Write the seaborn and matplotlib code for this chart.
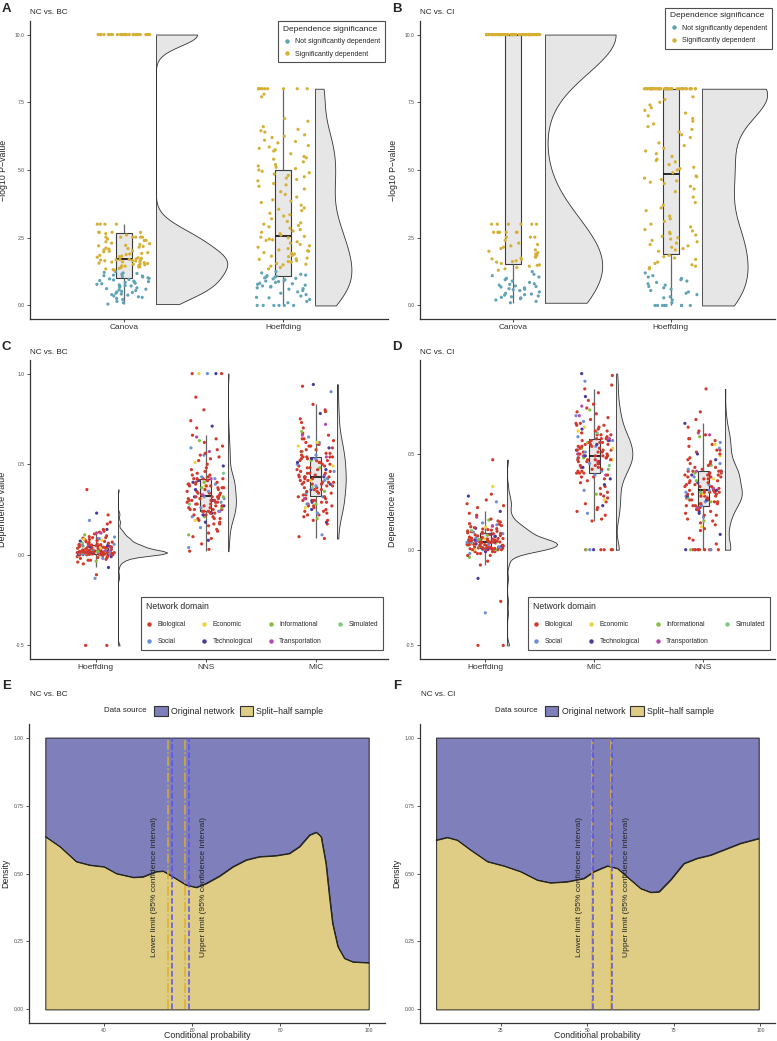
import numpy as np
import pandas as pd
import seaborn as sns
import matplotlib.pyplot as plt
from matplotlib.lines import Line2D
from matplotlib.patches import Patch, Rectangle

# ---------------- data ----------------
# Panel A / B : -log10 P-values (values >= 1.3 are significant)
A_CANOVA = [10.0] * 30 + [
    0.05, 0.10, 0.15, 0.22, 0.26, 0.30, 0.32, 0.35, 0.38, 0.40,
    0.42, 0.45, 0.48, 0.50, 0.52, 0.55, 0.58, 0.60, 0.62, 0.65,
    0.68, 0.70, 0.72, 0.74, 0.76, 0.78, 0.80, 0.82, 0.85, 0.86,
    0.88, 0.90, 0.92, 0.94, 0.96, 0.98, 1.00, 1.02,
    1.05, 1.07, 1.09, 1.10, 1.12, 1.15, 1.18, 1.20, 1.22, 1.25,
    1.30, 1.32, 1.35, 1.37, 1.40, 1.42, 1.43, 1.45, 1.46, 1.48,
    1.50, 1.52, 1.53, 1.55, 1.56, 1.58, 1.60, 1.61, 1.62, 1.64,
    1.65, 1.66, 1.67, 1.68, 1.69, 1.70, 1.70,
    1.72, 1.74, 1.76, 1.78, 1.80, 1.82, 1.85, 1.88, 1.90, 1.92,
    1.95, 1.98, 2.00, 2.02, 2.05, 2.08, 2.10, 2.12, 2.15, 2.18,
    2.20, 2.22, 2.25, 2.28, 2.30, 2.35, 2.40, 2.40, 2.45, 2.52,
    2.52, 2.52, 2.52, 2.52, 2.52, 2.60, 2.65,
    2.70, 2.70, 2.70, 2.70, 3.00, 3.00, 3.00, 3.00]
A_HOEFF = [0.0] * 6 + [
    0.10, 0.15, 0.22, 0.28, 0.30, 0.35, 0.40, 0.45, 0.50, 0.55,
    0.60, 0.62, 0.65, 0.68, 0.70, 0.72, 0.75, 0.78, 0.80, 0.82,
    0.85, 0.88, 0.90, 0.92, 0.95, 0.98, 1.00, 1.02, 1.05, 1.05,
    1.08, 1.10, 1.12, 1.15, 1.20, 1.25,
    1.35, 1.40, 1.45, 1.50, 1.52, 1.55, 1.60, 1.62, 1.65, 1.70,
    1.72, 1.75, 1.80, 1.82, 1.85, 1.90, 1.92, 1.95, 2.00, 2.02,
    2.05, 2.10, 2.15, 2.20, 2.25, 2.30, 2.35, 2.40, 2.42, 2.45,
    2.50, 2.52, 2.55,
    2.60, 2.65, 2.70, 2.75, 2.80, 2.85, 2.90, 2.95, 3.00, 3.05,
    3.10, 3.20, 3.30, 3.35, 3.40, 3.50, 3.55, 3.60, 3.70, 3.80,
    3.85, 3.90, 4.00, 4.10, 4.20, 4.30, 4.40, 4.45, 4.50, 4.60,
    4.65, 4.70, 4.75, 4.80, 4.85, 4.90, 4.95,
    5.00, 5.05, 5.10, 5.20, 5.30, 5.40, 5.50, 5.60, 5.70, 5.80,
    5.85, 5.90, 6.00, 6.10, 6.20, 6.30, 6.40, 6.50, 6.60, 6.80,
    6.90, 5.15, 5.45, 5.75, 6.05, 6.25, 6.45, 7.70, 7.80] + [8.0] * 9
B_CANOVA = [10.0] * 76 + [
    0.10, 0.15, 0.20, 0.25, 0.28, 0.30, 0.32, 0.35, 0.38, 0.40,
    0.42, 0.45, 0.50, 0.55, 0.58, 0.60, 0.62, 0.65, 0.68, 0.70,
    0.72, 0.75, 0.78, 0.80, 0.85, 0.90, 0.95, 1.00, 1.05, 1.10,
    1.15, 1.25,
    1.30, 1.35, 1.40, 1.45, 1.48, 1.50, 1.55,
    1.60, 1.62, 1.65, 1.70, 1.72, 1.75, 1.78, 1.80, 1.85, 1.90,
    1.95, 2.00, 2.05, 2.10, 2.15, 2.20, 2.25, 2.30, 2.40, 2.52,
    2.52, 2.52, 2.70, 2.70, 2.70, 2.70, 2.70, 2.70, 2.70, 3.00,
    3.00, 3.00, 3.00, 3.00, 3.00]
B_HOEFF = [0.0] * 8 + [
    0.10, 0.20, 0.28, 0.32, 0.40, 0.45, 0.50, 0.55, 0.60, 0.65,
    0.70, 0.75, 0.80, 0.85, 0.90, 0.95, 1.00, 1.05, 1.10, 1.20,
    1.35, 1.40, 1.45, 1.50, 1.55, 1.60, 1.70, 1.75, 1.80, 1.85,
    2.00, 2.05, 2.10, 2.15, 2.20, 2.25, 2.30, 2.35, 2.40, 2.45,
    2.50, 2.55, 2.60, 2.65, 2.70, 2.75, 2.80, 2.90, 3.00, 3.10,
    3.20, 3.30, 3.50, 3.60, 3.70, 3.80, 4.00, 4.20, 4.30, 4.40,
    4.50, 4.55, 4.60, 4.65, 4.70, 4.75, 4.78,
    4.90, 5.00, 5.05, 5.10, 5.20, 5.30, 5.35, 5.40, 5.50, 5.60,
    5.70, 5.80, 5.90, 6.00, 6.20, 6.30, 6.40, 6.50, 6.60, 6.70,
    6.80, 6.90, 7.00, 7.10, 7.20, 7.30, 7.40, 7.50, 7.60, 7.70] + [8.0] * 45

SIG_LABELS = ["Not significantly dependent", "Significantly dependent"]
SIG_COLORS = ["#5FA3B6", "#D6B035"]

# Panel C / D : dependence values, one entry per network
DOMAIN_CODES = ("BBSBTBBIBB" "BSBBBTBBEB" "BBIBSBBTBB" "TBBBPBSBBB" "BBSBBIBTBB"
                "BMBBSBBBTB" "BBBEBBSBIB" "SBTBBBBPBB" "BBBSBTBBIB" "BEBBBSBBBT"
                "BBIBBTBSBB" "PBBSBBBMBB" "BBTBEBBBSB" "BSBBIBPBBT" "BBBSBTBEBP")
DOMAIN_NAMES = {"B": "Biological", "E": "Economic", "I": "Informational", "M": "Simulated",
                "S": "Social", "T": "Technological", "P": "Transportation"}
DOMAIN_ORDER = ["Biological", "Economic", "Informational", "Simulated",
                "Social", "Technological", "Transportation"]
DOMAIN_COLORS = ["#D2392B", "#EFD33A", "#86BE3D", "#7DC882",
                 "#6D8FD8", "#4A3A9E", "#B548AE"]

C_HOEFF = [
    -0.50, -0.50, -0.13, -0.11, -0.07,
    -0.05, -0.04, -0.035, -0.03, -0.03, -0.025, -0.02, -0.02, -0.015, -0.015,
    -0.01, -0.01, -0.01, -0.005, -0.005,
    0.0, 0.0, 0.0, 0.0, 0.0, 0.0, 0.0, 0.0, 0.002, 0.002, 0.002, 0.003, 0.003,
    0.004, 0.004, 0.005, 0.005, 0.005,
    0.006, 0.006, 0.007, 0.007, 0.008, 0.008, 0.009, 0.009, 0.010, 0.010,
    0.010, 0.011, 0.011, 0.012, 0.012, 0.012, 0.013, 0.013, 0.014, 0.014,
    0.015, 0.015, 0.015, 0.016, 0.016, 0.017, 0.017, 0.018, 0.018, 0.018,
    0.019, 0.019, 0.019, 0.020, 0.020, 0.020, 0.020,
    0.021, 0.022, 0.023, 0.024, 0.025, 0.026, 0.027, 0.028, 0.029, 0.030,
    0.031, 0.032, 0.033, 0.034, 0.035, 0.036, 0.037, 0.038, 0.039, 0.040,
    0.041, 0.042, 0.043, 0.044, 0.045, 0.046, 0.047, 0.048, 0.049, 0.050,
    0.051, 0.052, 0.053, 0.054, 0.055, 0.055, 0.056, 0.057,
    0.058, 0.060, 0.062, 0.064, 0.066, 0.068, 0.070, 0.072, 0.074, 0.076,
    0.078, 0.080, 0.082, 0.085, 0.088, 0.090, 0.092, 0.095, 0.098, 0.100,
    0.105, 0.110, 0.115, 0.120, 0.125, 0.13, 0.14, 0.14, 0.17, 0.18,
    0.19, 0.22, 0.23, 0.36, 0.085, 0.095, 0.12]
C_NNS = [
    0.02, 0.03, 0.04, 0.06, 0.08, 0.09, 0.10, 0.11, 0.12, 0.13,
    0.14, 0.15, 0.16, 0.17, 0.17, 0.18, 0.18, 0.19, 0.19, 0.20,
    0.20, 0.20, 0.21, 0.21, 0.21, 0.22, 0.22, 0.22, 0.22, 0.23,
    0.23, 0.23, 0.23, 0.24, 0.24, 0.24, 0.24,
    0.24, 0.25, 0.25, 0.25, 0.25, 0.26, 0.26, 0.26, 0.26, 0.27,
    0.27, 0.27, 0.27, 0.28, 0.28, 0.28, 0.28, 0.29, 0.29, 0.29,
    0.29, 0.30, 0.30, 0.30, 0.30, 0.30, 0.31, 0.31, 0.31, 0.31,
    0.31, 0.32, 0.32, 0.32, 0.32, 0.32, 0.32, 0.32,
    0.33, 0.33, 0.33, 0.34, 0.34, 0.34, 0.35, 0.35, 0.35, 0.36,
    0.36, 0.36, 0.37, 0.37, 0.37, 0.37, 0.38, 0.38, 0.38, 0.38,
    0.39, 0.39, 0.39, 0.39, 0.40, 0.40, 0.40, 0.40, 0.41, 0.41,
    0.41, 0.41, 0.42, 0.42, 0.42, 0.42, 0.42, 0.42,
    0.43, 0.43, 0.44, 0.44, 0.45, 0.45, 0.46, 0.47, 0.48, 0.49,
    0.50, 0.51, 0.52, 0.53, 0.54, 0.55, 0.56, 0.58, 0.59, 0.60,
    0.62, 0.63, 0.64, 0.65, 0.66, 0.70, 0.71, 0.74, 0.80, 0.87,
    1.0, 1.0, 1.0, 1.0, 1.0, 0.55, 0.57]
C_MIC = [
    0.09, 0.10, 0.11, 0.17, 0.18, 0.19, 0.19, 0.20, 0.21, 0.22,
    0.22, 0.23, 0.23, 0.24, 0.24, 0.25, 0.25, 0.26, 0.26, 0.27,
    0.27, 0.27, 0.28, 0.28, 0.28, 0.29, 0.29, 0.29, 0.30, 0.30,
    0.30, 0.30, 0.31, 0.31, 0.31, 0.32, 0.32,
    0.32, 0.33, 0.33, 0.34, 0.34, 0.34, 0.35, 0.35, 0.35, 0.36,
    0.36, 0.36, 0.37, 0.37, 0.37, 0.38, 0.38, 0.38, 0.39, 0.39,
    0.39, 0.39, 0.40, 0.40, 0.40, 0.40, 0.41, 0.41, 0.41, 0.41,
    0.42, 0.42, 0.42, 0.42, 0.43, 0.43, 0.43, 0.43,
    0.43, 0.44, 0.44, 0.44, 0.45, 0.45, 0.45, 0.46, 0.46, 0.46,
    0.47, 0.47, 0.47, 0.48, 0.48, 0.48, 0.49, 0.49, 0.49, 0.50,
    0.50, 0.50, 0.51, 0.51, 0.51, 0.52, 0.52, 0.52, 0.52, 0.53,
    0.53, 0.53, 0.53, 0.54, 0.54, 0.54, 0.54, 0.54,
    0.55, 0.55, 0.56, 0.56, 0.57, 0.57, 0.58, 0.58, 0.59, 0.59,
    0.60, 0.60, 0.61, 0.61, 0.62, 0.62, 0.63, 0.64, 0.65, 0.66,
    0.67, 0.68, 0.70, 0.72, 0.73, 0.75, 0.78, 0.79, 0.80, 0.83,
    0.90, 0.93, 0.94, 0.60, 0.62, 0.64, 0.66]
D_HOEFF = [
    -0.50, -0.50, -0.33, -0.27, -0.15, -0.08, -0.06, -0.04, -0.03, -0.03,
    -0.02, -0.02, -0.02, -0.01, -0.01, -0.01, -0.01, 0.00, 0.00, 0.00,
    0.00, 0.00, 0.00, 0.00, 0.00, 0.00, 0.005, 0.005, 0.005, 0.005,
    0.006, 0.007, 0.008, 0.008, 0.009, 0.009, 0.010,
    0.010, 0.011, 0.012, 0.013, 0.014, 0.015, 0.016, 0.017, 0.018, 0.019,
    0.020, 0.021, 0.022, 0.023, 0.024, 0.025, 0.026, 0.027, 0.028, 0.029,
    0.030, 0.030, 0.031, 0.032, 0.033, 0.034, 0.035, 0.035, 0.036, 0.037,
    0.037, 0.038, 0.038, 0.039, 0.039, 0.040, 0.040, 0.040,
    0.041, 0.042, 0.043, 0.044, 0.045, 0.046, 0.047, 0.048, 0.049, 0.050,
    0.051, 0.052, 0.053, 0.054, 0.055, 0.056, 0.057, 0.058, 0.059, 0.060,
    0.062, 0.064, 0.066, 0.068, 0.070, 0.072, 0.074, 0.076, 0.078, 0.080,
    0.082, 0.083, 0.084, 0.085, 0.086, 0.087, 0.088, 0.090,
    0.092, 0.094, 0.096, 0.098, 0.100, 0.102, 0.105, 0.108, 0.110, 0.112,
    0.115, 0.118, 0.120, 0.123, 0.126, 0.130, 0.133, 0.136, 0.140, 0.145,
    0.150, 0.155, 0.160, 0.170, 0.180, 0.190, 0.200, 0.22, 0.23, 0.24,
    0.25, 0.26, 0.28, 0.29, 0.33, 0.47, 0.125]
D_MIC = [0.0] * 8 + [
    0.15, 0.16, 0.18, 0.19, 0.20, 0.21, 0.22, 0.23, 0.24, 0.25,
    0.26, 0.27, 0.28, 0.29, 0.29, 0.30, 0.31, 0.32, 0.33, 0.34,
    0.35, 0.36, 0.37, 0.37, 0.38, 0.38, 0.39, 0.39, 0.39,
    0.40, 0.40, 0.40, 0.41, 0.41, 0.41, 0.42, 0.42, 0.42, 0.43,
    0.43, 0.43, 0.44, 0.44, 0.44, 0.45, 0.45, 0.45, 0.45, 0.46,
    0.46, 0.46, 0.46, 0.47, 0.47, 0.47, 0.47, 0.47, 0.48, 0.48,
    0.48, 0.48, 0.48, 0.49, 0.49, 0.49, 0.49, 0.49,
    0.49, 0.50, 0.50, 0.50, 0.50, 0.51, 0.51, 0.51, 0.51, 0.52,
    0.52, 0.52, 0.52, 0.53, 0.53, 0.53, 0.53, 0.54, 0.54, 0.54,
    0.54, 0.55, 0.55, 0.55, 0.55, 0.56, 0.56, 0.56, 0.56, 0.57,
    0.57, 0.57, 0.57, 0.57, 0.58, 0.58, 0.58, 0.58,
    0.59, 0.59, 0.60, 0.60, 0.61, 0.61, 0.62, 0.62, 0.63, 0.63,
    0.64, 0.64, 0.65, 0.65, 0.66, 0.67, 0.68, 0.69, 0.70, 0.71,
    0.72, 0.73, 0.74, 0.75, 0.76, 0.78, 0.80, 0.82, 0.84, 0.86,
    0.88, 0.91, 0.92, 0.60, 0.62, 0.66, 0.70]
D_NNS = [0.0] * 12 + [
    0.03, 0.05, 0.06, 0.08, 0.10, 0.11, 0.12, 0.13, 0.14, 0.15,
    0.15, 0.16, 0.17, 0.18, 0.18, 0.19, 0.19, 0.20, 0.20, 0.21,
    0.21, 0.22, 0.22, 0.23, 0.23,
    0.23, 0.23, 0.24, 0.24, 0.24, 0.25, 0.25, 0.25, 0.25, 0.26,
    0.26, 0.26, 0.26, 0.27, 0.27, 0.27, 0.27, 0.28, 0.28, 0.28,
    0.28, 0.28, 0.29, 0.29, 0.29, 0.29, 0.29, 0.30, 0.30, 0.30,
    0.30, 0.30, 0.30, 0.31, 0.31, 0.31, 0.31, 0.31,
    0.31, 0.32, 0.32, 0.32, 0.33, 0.33, 0.33, 0.34, 0.34, 0.34,
    0.35, 0.35, 0.35, 0.36, 0.36, 0.36, 0.37, 0.37, 0.37, 0.38,
    0.38, 0.38, 0.38, 0.39, 0.39, 0.39, 0.39, 0.40, 0.40, 0.40,
    0.40, 0.40, 0.41, 0.41, 0.41, 0.41, 0.41, 0.41,
    0.42, 0.42, 0.43, 0.43, 0.44, 0.44, 0.45, 0.45, 0.46, 0.47,
    0.48, 0.49, 0.50, 0.51, 0.52, 0.53, 0.54, 0.55, 0.56, 0.57,
    0.58, 0.59, 0.60, 0.61, 0.62, 0.64, 0.66, 0.68, 0.72, 0.84,
    0.45, 0.47, 0.50, 0.52, 0.55, 0.58, 0.60]

# Panel E / F : share of split-half sample in the conditional density
E_X = [26.7, 30.0, 33.7, 36.8, 40.0, 42.8, 46.6, 48.8, 51.8, 53.4, 55.6, 58.6,
       60.9, 63.2, 66.2, 69.2, 72.2, 75.2, 79.0, 82.0, 84.3, 86.6, 88.1, 89.2,
       90.3, 91.1, 91.8, 93.0, 94.5, 96.4, 100.0]
E_SPLIT = [0.636, 0.599, 0.544, 0.531, 0.525, 0.500, 0.486, 0.488, 0.507, 0.509,
           0.488, 0.458, 0.449, 0.464, 0.491, 0.525, 0.550, 0.562, 0.566, 0.574,
           0.599, 0.642, 0.652, 0.636, 0.537, 0.415, 0.317, 0.231, 0.188, 0.175,
           0.172]
E_CI_SPLIT = [54.6, 58.4]
E_CI_ORIG = [55.5, 59.2]
F_X = [6.4, 9.6, 12.5, 16.3, 21.2, 26.0, 30.8, 35.6, 39.4, 44.2, 49.0, 51.9,
       55.8, 58.7, 61.5, 65.4, 68.3, 70.7, 74.0, 77.9, 81.7, 85.6, 89.4, 94.2,
       99.5]
F_SPLIT = [0.623, 0.633, 0.623, 0.587, 0.544, 0.528, 0.507, 0.476, 0.466, 0.470,
           0.482, 0.507, 0.528, 0.519, 0.488, 0.445, 0.431, 0.433, 0.476, 0.537,
           0.556, 0.568, 0.587, 0.611, 0.629]
F_CI_SPLIT = [51.25, 57.0]
F_CI_ORIG = [51.7, 57.3]

SOURCE_LABELS = ["Original network", "Split\u2212half sample"]
SOURCE_COLORS = ["#7F7FBB", "#DFCD85"]

# ---------------- style ----------------
sns.set_style("ticks")
plt.rcParams["font.family"] = ["Liberation Sans", "DejaVu Sans"]
np.random.seed(7)

W, H = 777, 1041
AX_COL = "#333333"
VIOLIN_FILL = "#E6E6E6"


def nrd0(kde):
    # R's default bandwidth (bw.nrd0), as a factor of the sample sd
    x = kde.dataset.ravel()
    sd = x.std(ddof=1)
    q75, q25 = np.percentile(x, [75, 25])
    h = 0.9 * min(sd, (q75 - q25) / 1.34) * len(x) ** -0.2
    return h / sd


def px_axes(l, t, r, b):
    return fig.add_axes([l / W, 1 - b / H, (r - l) / W, (b - t) / H])


def style_axes(ax):
    sns.despine(ax=ax)
    for s in ["left", "bottom"]:
        ax.spines[s].set_color(AX_COL)
        ax.spines[s].set_linewidth(0.9)
    ax.tick_params(axis="both", colors=AX_COL, length=2.2, width=0.6, pad=1.5)
    ax.tick_params(axis="y", labelsize=3.6, labelcolor="#4D4D4D")


def half_violin(ax, pos, vals, width):
    # full violin centred at pos + 0.2, then keep only its right half
    n0 = len(ax.collections)
    xpos = pos + 0.2
    sns.violinplot(x=[xpos] * len(vals), y=vals, native_scale=True, inner=None,
                   cut=0, bw_method=nrd0, width=width, color=VIOLIN_FILL,
                   saturation=1, linecolor=AX_COL, linewidth=0.6, orient="x", ax=ax)
    clip = Rectangle((xpos, -1e3), 10, 2e3, transform=ax.transData)
    for coll in ax.collections[n0:]:
        coll.set_clip_path(clip)
    ax.vlines(xpos, min(vals), max(vals), color=AX_COL, linewidth=0.6)


def rain_panel(ax, groups, hue_vals, hue_order, palette, widths):
    xs, ys, hs = [], [], []
    for i, (vals, hv) in enumerate(zip(groups, hue_vals)):
        xs += [float(i)] * len(vals)
        ys += list(vals)
        hs += list(hv)
    df = pd.DataFrame({"x": xs, "y": ys, "h": hs})
    sns.stripplot(data=df, x="x", y="y", hue="h", hue_order=hue_order,
                  palette=palette, native_scale=True, jitter=0.17, size=2.3,
                  linewidth=0, legend=False, orient="x", ax=ax)
    sns.boxplot(data=df, x="x", y="y", native_scale=True, width=0.1,
                showfliers=False, showcaps=False, orient="x",
                boxprops={"facecolor": (0.85, 0.85, 0.85, 0.6),
                          "edgecolor": "#3A3A3A", "linewidth": 0.8},
                whiskerprops={"color": "#666666", "linewidth": 0.9},
                medianprops={"color": "#1A1A1A", "linewidth": 1.3},
                ax=ax)
    for i, vals in enumerate(groups):
        half_violin(ax, i, vals, widths[i])


def sig_of(vals):
    return [SIG_LABELS[1] if v >= 1.3 else SIG_LABELS[0] for v in vals]


fig = plt.figure(figsize=(W / 100, H / 100), dpi=100)

# ---------------- A / B ----------------
for key, (l, r, groups, title, letter, widths) in {
    "A": (30, 388, [A_CANOVA, A_HOEFF], "NC vs. BC", "A", [0.90, 0.46]),
    "B": (420, 775, [B_CANOVA, B_HOEFF], "NC vs. CI", "B", [0.90, 0.82]),
}.items():
    ax = px_axes(l, 21, r, 319)
    rain_panel(ax, groups, [sig_of(g) for g in groups], SIG_LABELS,
               dict(zip(SIG_LABELS, SIG_COLORS)), widths)
    ax.set_xlim(-0.59, 1.66)
    ax.set_ylim(-0.5, 10.5)
    ax.set_xticks([0, 1], ["Canova", "Hoeffding"], fontsize=6.0)
    ax.set_yticks([0, 2.5, 5, 7.5, 10], ["0.0", "2.5", "5.0", "7.5", "10.0"])
    ax.set_xlabel("")
    ax.set_ylabel("\u2212log10 P\u2212value", fontsize=6.3)
    ax.yaxis.set_label_coords(-0.062, 0.5)
    style_axes(ax)
    handles = [Line2D([], [], ls="", marker="o", ms=2.2, color=c) for c in SIG_COLORS]
    top = 1.01 if key == "A" else 1.055
    leg = ax.legend(handles, SIG_LABELS, title="Dependence significance",
                    loc="upper right", bbox_to_anchor=(1.0, top), fontsize=5.0,
                    title_fontsize=6.0, frameon=True, fancybox=False,
                    edgecolor="#222222", alignment="left", handletextpad=0.6,
                    borderpad=0.6, labelspacing=0.8, handlelength=1.2)
    leg.get_frame().set_linewidth(0.8)
    fig.text((l - 28) / W, 1 - 9 / H, letter, fontsize=9.5, fontweight="bold",
             va="center", ha="left")
    fig.text(l / W, 1 - 13 / H, title, fontsize=5.9, va="center", ha="left")

# ---------------- C / D ----------------
domains = [DOMAIN_NAMES[c] for c in DOMAIN_CODES]
for key, (l, r, groups, names, title, letter, widths, ylim, yt) in {
    "C": (30, 388, [C_HOEFF, C_NNS, C_MIC], ["Hoeffding", "NNS", "MIC"],
          "NC vs. BC", "C", [0.90, 0.15, 0.15], (-0.575, 1.075), [-0.5, 0, 0.5, 1.0]),
    "D": (420, 775, [D_HOEFF, D_MIC, D_NNS], ["Hoeffding", "MIC", "NNS"],
          "NC vs. CI", "D", [0.92, 0.30, 0.31], (-0.571, 0.991), [-0.5, 0, 0.5]),
}.items():
    ax = px_axes(l, 360, r, 659)
    rain_panel(ax, groups, [domains] * 3, DOMAIN_ORDER,
               dict(zip(DOMAIN_ORDER, DOMAIN_COLORS)), widths)
    ax.set_xlim(-0.6, 2.66)
    ax.set_ylim(*ylim)
    ax.set_xticks([0, 1, 2], names, fontsize=6.0)
    ax.set_yticks(yt, [f"{v:.1f}" for v in yt])
    ax.set_xlabel("")
    ax.set_ylabel("Dependence value", fontsize=6.5)
    ax.yaxis.set_label_coords(-0.064, 0.5)
    style_axes(ax)
    order = ["Biological", "Social", "Economic", "Technological",
             "Informational", "Transportation", "Simulated"]
    cmap = dict(zip(DOMAIN_ORDER, DOMAIN_COLORS))
    handles = [Line2D([], [], ls="", marker="o", ms=2.2, color=cmap[n]) for n in order]
    leg = ax.legend(handles, order, title="Network domain", ncol=4,
                    loc="lower right", bbox_to_anchor=(0.995, 0.02), fontsize=4.8,
                    title_fontsize=6.2, frameon=True, fancybox=False,
                    edgecolor="#222222", alignment="left", handletextpad=0.8,
                    borderpad=0.7, labelspacing=1.5, columnspacing=2.2,
                    handlelength=1.0)
    leg.get_frame().set_linewidth(0.8)
    fig.text((l - 28) / W, 1 - 347 / H, letter, fontsize=9.5, fontweight="bold",
             va="center", ha="left")
    fig.text(l / W, 1 - 353 / H, title, fontsize=5.9, va="center", ha="left")

# ---------------- E / F ----------------
for key, (l, r, xs, split, ci_s, ci_o, xlim, xt, title, letter, tpos) in {
    "E": (29, 385, E_X, E_SPLIT, E_CI_SPLIT, E_CI_ORIG, (23.0, 103.7),
          [40, 60, 80, 100], "NC vs. BC", "E", (51.5, 62.6)),
    "F": (420, 775, F_X, F_SPLIT, F_CI_SPLIT, F_CI_ORIG, (1.75, 104.2),
          [25, 50, 75, 100], "NC vs. CI", "F", (47.8, 61.2)),
}.items():
    ax = px_axes(l, 724, r, 1023)
    ax.fill_between(xs, split, 1.0, color=SOURCE_COLORS[0], edgecolor="#222222",
                    linewidth=0.7)
    ax.fill_between(xs, 0.0, split, color=SOURCE_COLORS[1], edgecolor="#222222",
                    linewidth=0.7)
    sns.lineplot(x=xs, y=split, color="#222222", linewidth=0.7, ax=ax)
    for v in ci_s:
        ax.vlines(v, 0, 1, color="#D9AE2C", linestyle="-.", linewidth=1.1)
    for v in ci_o:
        ax.vlines(v, 0, 1, color="#5B52F0", linestyle="--", linewidth=1.1)
    ax.text(tpos[0], 0.45, "Lower limit (95% confidence interval)", rotation=90,
            ha="center", va="center", fontsize=6.1)
    ax.text(tpos[1], 0.45, "Upper limit (95% confidence interval)", rotation=90,
            ha="center", va="center", fontsize=6.1)
    ax.set_xlim(*xlim)
    ax.set_ylim(-0.05, 1.05)
    ax.set_xticks(xt)
    ax.set_yticks([0, 0.25, 0.5, 0.75, 1.0], ["0.00", "0.25", "0.50", "0.75", "1.00"])
    style_axes(ax)
    ax.tick_params(axis="x", labelsize=3.6, labelcolor="#4D4D4D")
    ax.set_xlabel("Conditional probability", fontsize=6.3)
    ax.xaxis.set_label_coords(0.5, -0.043)
    ax.xaxis.label.set_va("center")
    ax.set_ylabel("Density", fontsize=6.3)
    ax.yaxis.set_label_coords(-0.053, 0.5)
    handles = [Patch(facecolor=c, edgecolor="#333333", linewidth=0.8) for c in SOURCE_COLORS]
    cx = (l + r) / 2
    leg = fig.legend(handles, SOURCE_LABELS, ncol=2, loc="center left",
                     bbox_to_anchor=((cx - 57) / W, 1 - 711 / H), fontsize=6.3,
                     frameon=False, handlelength=1.5, handleheight=1.4,
                     handletextpad=0.4, columnspacing=0.6, borderpad=0)
    fig.text((cx - 60) / W, 1 - 711 / H, "Data source", fontsize=5.7,
             ha="right", va="center")
    fig.text((l - 27) / W, 1 - 686 / H, letter, fontsize=9.5, fontweight="bold",
             va="center", ha="left")
    fig.text((l + 1) / W, 1 - 694 / H, title, fontsize=5.9, va="center", ha="left")

fig.savefig("out.png", dpi=100)
